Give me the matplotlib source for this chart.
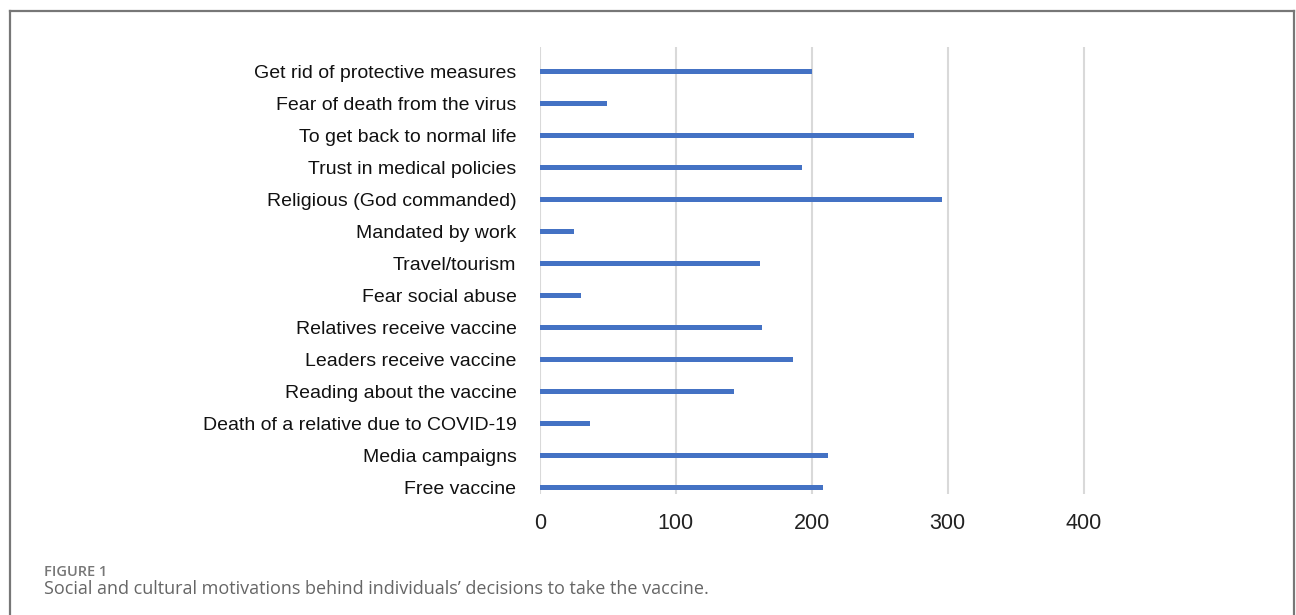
import matplotlib.pyplot as plt

# data (top to bottom)
motivations = [
    "Get rid of protective measures",
    "Fear of death from the virus",
    "To get back to normal life",
    "Trust in medical policies",
    "Religious (God commanded)",
    "Mandated by work",
    "Travel/tourism",
    "Fear social abuse",
    "Relatives receive vaccine",
    "Leaders receive vaccine",
    "Reading about the vaccine",
    "Death of a relative due to COVID-19",
    "Media campaigns",
    "Free vaccine",
]
counts = [200, 49, 275, 193, 296, 25, 162, 30, 163, 186, 143, 37, 212, 208]
x_ticks = [0, 100, 200, 300, 400]

fig = plt.figure(figsize=(12.96, 6.15), dpi=100)

# frame around the figure panel (no bottom edge)
xl, xr, yt = 9.5 / 1296, 1293.5 / 1296, 1 - 11 / 615
fig.add_artist(plt.Line2D([xl, xl], [0, yt], color="#777777", lw=1.6))
fig.add_artist(plt.Line2D([xl, xr], [yt, yt], color="#777777", lw=1.6))
fig.add_artist(plt.Line2D([xr, xr], [0, yt], color="#777777", lw=1.6))

ax = fig.add_axes([540 / 1296, 121 / 615, 679.5 / 1296, 447 / 615])

ypos = list(range(len(motivations) - 1, -1, -1))
ax.barh(ypos, counts, height=0.16, color="#4472C4", zorder=3)

ax.set_xlim(0, 500)
ax.set_ylim(-0.19, 13.77)
ax.set_xticks(x_ticks)
ax.set_xticklabels([str(t) for t in x_ticks], fontsize=15.5, family="Liberation Sans", color="#222222")
ax.set_yticks(ypos)
ax.set_yticklabels(motivations, fontsize=14, family="Liberation Sans", color="#111111")
ax.tick_params(axis="both", length=0)
ax.tick_params(axis="x", pad=14)
ax.tick_params(axis="y", pad=17)

ax.grid(axis="x", color="#d9d9d9", lw=1.5, zorder=0)
for s in ax.spines.values():
    s.set_visible(False)

# caption
fig.text(44 / 1296, 1 - 572 / 615, "FIGURE 1", fontsize=10.5, family="Open Sans",
         fontweight="semibold", color="#777777", va="center")
fig.text(44 / 1296, 1 - 589 / 615,
         "Social and cultural motivations behind individuals\u2019 decisions to take the vaccine.",
         fontsize=13, family="Open Sans", color="#666666", va="center")

fig.savefig("out.png", dpi=100)
